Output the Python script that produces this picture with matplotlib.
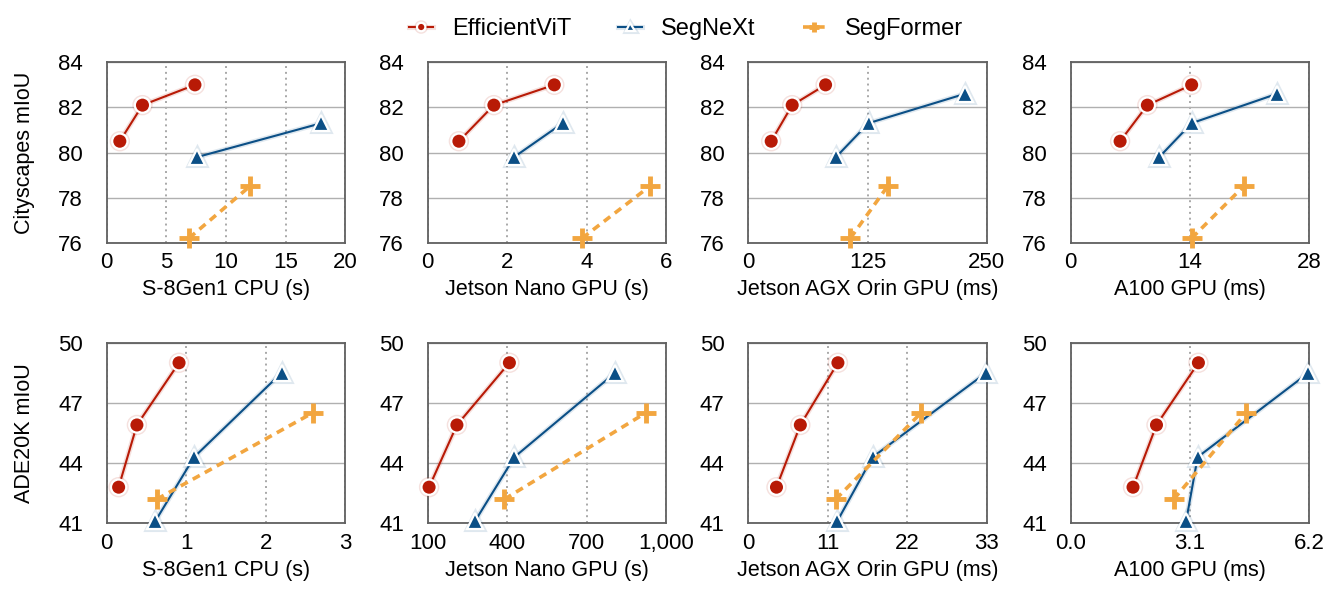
import numpy as np
import matplotlib
matplotlib.use("Agg")
import matplotlib.pyplot as plt
import matplotlib.patheffects as pe
from matplotlib.ticker import FuncFormatter

plt.rcParams['font.family'] = ['Liberation Sans', 'DejaVu Sans']

# mIoU per model size
cs_evit = [80.5, 82.1, 83.0]
cs_segnext = [79.8, 81.3, 82.6]
cs_segformer = [76.2, 78.5]
ade_evit = [42.8, 45.9, 49.0]
ade_segnext = [41.1, 44.3, 48.5]
ade_segformer = [42.2, 46.5]

# latency, Cityscapes row
cs_lat_evit = [[1.1, 3.0, 7.4], [0.79, 1.67, 3.19], [24, 46, 81], [5.8, 9.0, 14.2]]
cs_lat_segnext = [[7.6, 18.0], [2.18, 3.40], [92, 126, 227], [10.4, 14.2, 24.2]]
cs_lat_segformer = [[6.9, 12.0], [3.89, 5.59], [107, 146], [14.2, 20.3]]
# latency, ADE20K row
ade_lat_evit = [[0.15, 0.38, 0.91], [106, 211, 409], [3.9, 7.2, 12.4], [1.62, 2.23, 3.32]]
ade_lat_segnext = [[0.61, 1.10, 2.20], [279, 428, 808], [12.3, 17.2, 32.9], [3.0, 3.3, 6.18]]
ade_lat_segformer = [[0.63, 2.59], [390, 923], [12.1, 23.9], [2.68, 4.56]]

devices = ["S-8Gen1 CPU (s)", "Jetson Nano GPU (s)", "Jetson AGX Orin GPU (ms)", "A100 GPU (ms)"]
cs_xticks = [[0, 5, 10, 15, 20], [0, 2, 4, 6], [0, 125, 250], [0, 14, 28]]
ade_xticks = [[0, 1, 2, 3], [100, 400, 700, 1000], [0, 11, 22, 33], [0.0, 3.1, 6.2]]
cs_yticks = [76, 78, 80, 82, 84]
ade_yticks = [41, 44, 47, 50]

RED = "#b81a06"
BLUE = "#0b4f86"
ORANGE = "#f2a640"

fig = plt.figure(figsize=(13.3, 5.94), dpi=100)
W, H = 1330, 594
lefts = [106.7, 427.5, 748.3, 1070.7]
aw = 238.5
rows = [(62.3, 242.7), (342.7, 523.3)]


def glow(c, lw):
    return [pe.Stroke(linewidth=lw + 2.2, foreground=c, alpha=0.13), pe.Normal()]


def draw(ax, xs, ys, c, marker, ls, lw, ms, mew, mec, label):
    ax.plot(xs, ys, color=c, ls=ls, lw=lw, marker=marker, ms=ms, mew=mew,
            mec=mec, mfc=c, clip_on=False, zorder=5, label=label,
            path_effects=glow(c, lw) if mec == "white" else None)


handles = None
for r, (top, bot) in enumerate(rows):
    for ci in range(4):
        ax = fig.add_axes([lefts[ci] / W, 1 - bot / H, aw / W, (bot - top) / H])
        if r == 0:
            ev, sn, sf = cs_lat_evit[ci], cs_lat_segnext[ci], cs_lat_segformer[ci]
            yev, ysn, ysf = cs_evit, cs_segnext[:len(sn)], cs_segformer
            xt, yt = cs_xticks[ci], cs_yticks
        else:
            ev, sn, sf = ade_lat_evit[ci], ade_lat_segnext[ci], ade_lat_segformer[ci]
            yev, ysn, ysf = ade_evit, ade_segnext[:len(sn)], ade_segformer
            xt, yt = ade_xticks[ci], ade_yticks
        draw(ax, ev, yev, RED, "o", "-", 1.5, 11, 1.6, "white", "EfficientViT")
        draw(ax, sn, ysn, BLUE, "^", "-", 1.5, 11.5, 1.6, "white", "SegNeXt")
        draw(ax, sf, ysf, ORANGE, "+", (0, (2.2, 1.6)), 2.6, 14, 3.5, ORANGE, "SegFormer")
        ax.set_xlim(xt[0], xt[-1])
        ax.set_ylim(yt[0], yt[-1])
        ax.set_xticks(xt)
        ax.set_yticks(yt)
        if r == 1 and ci == 1:
            ax.xaxis.set_major_formatter(FuncFormatter(lambda v, p: f"{int(v):,}"))
        if r == 1 and ci == 3:
            ax.xaxis.set_major_formatter(FuncFormatter(lambda v, p: f"{v:.1f}"))
        ax.tick_params(length=0, labelsize=16)
        ax.tick_params(axis="y", pad=17)
        ax.tick_params(axis="x", pad=7)
        ax.yaxis.grid(True, color="#b0b0b0", lw=1.0, ls="-")
        ax.xaxis.grid(True, color="#a8a8a8", lw=1.4, ls=(0, (1, 2)))
        ax.set_axisbelow(True)
        for s in ax.spines.values():
            s.set_color("#606060")
            s.set_linewidth(1.3)
        ax.set_xlabel(devices[ci], fontsize=15.5, labelpad=4)
        if ci == 0:
            ax.set_ylabel("Cityscapes mIoU" if r == 0 else "ADE20K mIoU", fontsize=15.5)
            ax.yaxis.set_label_coords(-0.3, 0.5)
        if handles is None:
            handles, labels = ax.get_legend_handles_labels()

fig.legend(handles, labels, loc="upper center", bbox_to_anchor=(0.516, 1.005), ncol=3,
           frameon=False, fontsize=17, markerscale=0.55, handlelength=1.0,
           columnspacing=2.0, handletextpad=0.8)

fig.savefig("out.png", dpi=100)
